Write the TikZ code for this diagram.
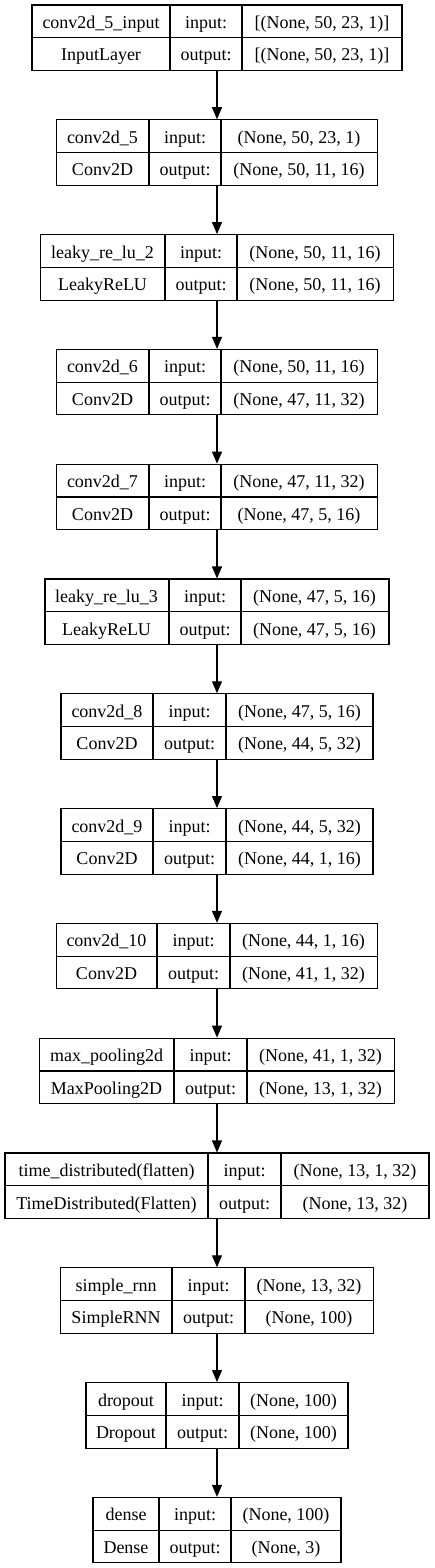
\documentclass[tikz,border=0pt]{standalone}
\usepackage{fontspec}
\setmainfont{Liberation Serif}
\usetikzlibrary{arrows.meta,positioning}
\tikzset{
  layerbox/.style={draw, line width=1.1pt, minimum height=65.5pt, inner sep=0pt},
  celltext/.style={anchor=base, inner sep=0pt, font=\fontsize{18}{21}\selectfont},
  flow/.style={line width=1.1pt, -{Triangle[width=10pt,length=12pt]}},
}

\begin{document}
\begin{tikzpicture}[x=1pt, y=-1pt]
\useasboundingbox (0,0) rectangle (434,1568);

% Layers: index/name/type/input shape/output shape/left/divider 1/divider 2/right
\foreach \n/\nm/\ty/\inp/\outp/\l/\da/\db/\r in {
  0/conv2d\_5\_input/InputLayer/{[(None, 50, 23, 1)]}/{[(None, 50, 23, 1)]}/32/170/242/402,
  1/conv2d\_5/Conv2D/{(None, 50, 23, 1)}/{(None, 50, 11, 16)}/56/149/221/377,
  2/leaky\_re\_lu\_2/LeakyReLU/{(None, 50, 11, 16)}/{(None, 50, 11, 16)}/40/165/237/393,
  3/conv2d\_6/Conv2D/{(None, 50, 11, 16)}/{(None, 47, 11, 32)}/56/149/221/377,
  4/conv2d\_7/Conv2D/{(None, 47, 11, 32)}/{(None, 47, 5, 16)}/56/149/221/377,
  5/leaky\_re\_lu\_3/LeakyReLU/{(None, 47, 5, 16)}/{(None, 47, 5, 16)}/44/169/241/388,
  6/conv2d\_8/Conv2D/{(None, 47, 5, 16)}/{(None, 44, 5, 32)}/61/153/226/373,
  7/conv2d\_9/Conv2D/{(None, 44, 5, 32)}/{(None, 44, 1, 16)}/61/153/226/373,
  8/conv2d\_10/Conv2D/{(None, 44, 1, 16)}/{(None, 41, 1, 32)}/56/157/230/377,
  9/max\_pooling2d/MaxPooling2D/{(None, 41, 1, 32)}/{(None, 13, 1, 32)}/39/174/247/394,
  10/time\_distributed(flatten)/TimeDistributed(Flatten)/{(None, 13, 1, 32)}/{(None, 13, 32)}/5/208/281/429,
  11/simple\_rnn/SimpleRNN/{(None, 13, 32)}/{(None, 100)}/60/172/245/373,
  12/dropout/Dropout/{(None, 100)}/{(None, 100)}/86/166/239/348,
  13/dense/Dense/{(None, 100)}/{(None, 3)}/93/159/231/341} {
    \pgfmathsetmacro{\ytop}{5+114.8*\n}
    \node[layerbox, minimum width={\r-\l}] (l\n) at (217, {\ytop+32.75}) {};
    % cell lines
    \draw[line width=1.1pt] (l\n.west) -- (l\n.east);
    \draw[line width=1.1pt] (\da, \ytop) -- ++(0, 65.5);
    \draw[line width=1.1pt] (\db, \ytop) -- ++(0, 65.5);
    % texts
    \node[celltext] (name\n) at ({(\l+\da)/2}, {\ytop+23.5}) {\nm};
    \node[celltext] (type\n) at ({(\l+\da)/2}, {\ytop+56}) {\ty};
    \node[celltext] (inl\n) at ({(\da+\db)/2}, {\ytop+23.5}) {input:};
    \node[celltext] (outl\n) at ({(\da+\db)/2}, {\ytop+56}) {output:};
    \node[celltext] (ins\n) at ({(\db+\r)/2}, {\ytop+23.5}) {\inp};
    \node[celltext] (outs\n) at ({(\db+\r)/2}, {\ytop+56}) {\outp};
}

% Connections
\foreach \a [count=\b] in {0,...,12}
  \draw[flow] (l\a.south) -- (l\b.north);
\end{tikzpicture}
\end{document}
